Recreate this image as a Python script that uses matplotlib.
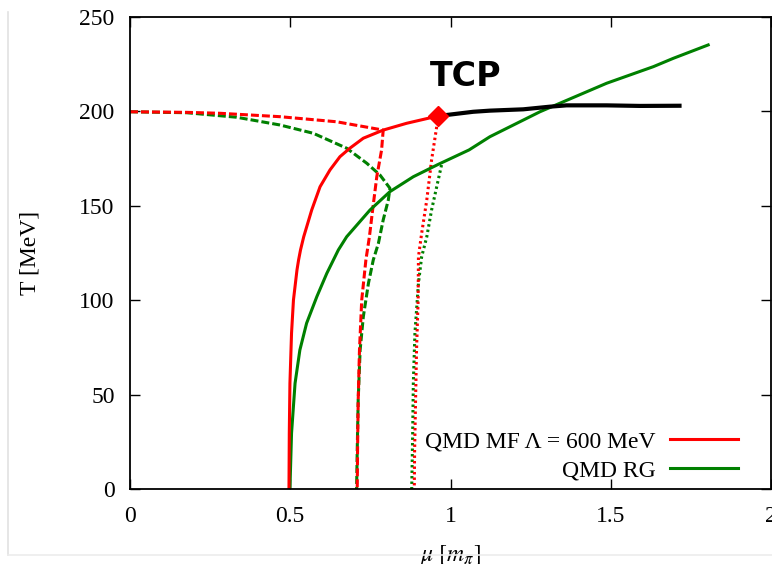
import matplotlib
matplotlib.use('Agg')
import matplotlib.pyplot as plt
from matplotlib.lines import Line2D

plt.rcParams['font.family'] = ['Liberation Serif', 'DejaVu Serif']
plt.rcParams['mathtext.fontset'] = 'stix'

# ── Data ──────────────────────────────────────────────────────────────
# mean-field crossover (red solid)
mf_cross_mu = [0.496, 0.497, 0.499, 0.504, 0.510, 0.521, 0.526, 0.532,
               0.542, 0.567, 0.593, 0.624, 0.655, 0.686, 0.728, 0.790,
               0.863, 0.962]
mf_cross_T = [0, 29.5, 56, 82.5, 100.1, 116, 121.3, 126.6, 133.6, 147.8,
              160.1, 169, 176, 180.5, 185.8, 190.1, 193.7, 197.6]

# RG crossover (green solid)
rg_cross_mu = [0.499, 0.504, 0.515, 0.530, 0.551, 0.583, 0.614, 0.650,
               0.676, 0.749, 0.811, 0.884, 0.960, 1.058, 1.123, 1.279,
               1.352, 1.487, 1.633, 1.695, 1.804]
rg_cross_T = [0, 29.5, 56, 73.6, 87.8, 101.9, 114.2, 126.6, 133.6, 147.8,
              157.5, 165.4, 171.8, 179.6, 186.6, 199.8, 205.1, 214.9,
              223.7, 228.1, 235.2]

# line beyond the TCP (black)
fo_mu = [0.962, 0.988, 1.071, 1.123, 1.227, 1.310, 1.362, 1.487, 1.591,
         1.721]
fo_T = [197.6, 198.1, 199.8, 200.4, 201.1, 202.5, 203.2, 203.2, 202.9,
        203.0]

# spinodals, dashed
mf_spin_mu = [0.0, 0.177, 0.281, 0.468, 0.645, 0.790, 0.785, 0.770,
              0.757, 0.747, 0.736, 0.723, 0.716, 0.712, 0.710, 0.709]
mf_spin_T = [199.8, 199.5, 199.0, 197.2, 194.5, 190.1, 179.6, 165.4,
             147.8, 133.6, 121.3, 100.1, 73.6, 47, 20.7, 0]

rg_spin_mu = [0.0, 0.177, 0.333, 0.468, 0.572, 0.676, 0.739, 0.780, 0.811,
              0.806, 0.790, 0.775, 0.759, 0.744, 0.728, 0.718, 0.712, 0.709,
              0.707]
rg_spin_T = [199.8, 199.3, 196.9, 192.8, 188.4, 180.5, 172.5, 166.3, 159.3,
             153.1, 142.5, 130.1, 121.3, 109, 91.3, 73.6, 47, 20.7, 0]

# dotted lines
mf_dot_mu = [0.962, 0.957, 0.941, 0.926, 0.910, 0.900, 0.899, 0.894, 0.891,
             0.888, 0.887]
mf_dot_T = [197.6, 191.9, 174.3, 153.1, 135.4, 123, 100.1, 73.6, 47, 20,
            0]

rg_dot_mu = [0.972, 0.957, 0.941, 0.926, 0.910, 0.900, 0.889, 0.884, 0.882,
             0.879]
rg_dot_T = [171.6, 160.1, 147.8, 133.6, 123, 109, 82.5, 56, 29.5, 0]

tcp_mu, tcp_T = 0.962, 197.6

RED = '#ff0000'
GREEN = '#008000'
LW = 2.2
FS = 17

# ── Figure ────────────────────────────────────────────────────────────
fig = plt.figure(figsize=(7.72, 5.64), dpi=100)
ax = fig.add_axes([130 / 772, 1 - 489 / 564, 641 / 772, 472 / 564])

dash = dict(lw=LW, dashes=(2.6, 1.0), dash_capstyle='butt')
dot = dict(lw=LW, dashes=(0.8, 1.0), dash_capstyle='butt')

ax.plot(rg_spin_mu, rg_spin_T, color=GREEN, **dash)
ax.plot(mf_spin_mu, mf_spin_T, color=RED, **dash)
ax.plot(rg_dot_mu, rg_dot_T, color=GREEN, **dot)
ax.plot(mf_dot_mu, mf_dot_T, color=RED, **dot)
ax.plot(rg_cross_mu, rg_cross_T, color=GREEN, lw=LW)
ax.plot(mf_cross_mu, mf_cross_T, color=RED, lw=LW)
ax.plot(fo_mu, fo_T, color='black', lw=3.0, solid_capstyle='butt')
ax.plot([tcp_mu], [tcp_T], marker='D', ms=10, color=RED, zorder=6)

ax.text(1.048, 218.5, 'TCP', family='DejaVu Sans', fontweight='bold',
        fontsize=24, ha='center', va='center')

ax.set_xlim(0, 2)
ax.set_ylim(0, 250)
ax.set_xticks([0, 0.5, 1, 1.5, 2])
ax.set_xticklabels(['0', '0.5', '1', '1.5', '2'])
ax.set_yticks(range(0, 251, 50))
ax.tick_params(direction='in', length=7, width=1, labelsize=FS,
               top=True, right=True)
ax.tick_params(axis='x', pad=12)
ax.tick_params(axis='y', pad=11)
for sp in ax.spines.values():
    sp.set_linewidth(1.3)

ax.set_ylabel('T [MeV]', fontsize=FS, labelpad=28)
ax.set_xlabel(r'$\mu\ [m_\pi]$', fontsize=FS, labelpad=12)

handles = [Line2D([0], [0], color=RED, lw=LW),
           Line2D([0], [0], color=GREEN, lw=LW)]
ax.legend(handles, ['QMD MF \u039b = 600 MeV', 'QMD RG'],
          loc='lower right', bbox_to_anchor=(0.949, 0.016),
          frameon=False, markerfirst=False, fontsize=FS,
          handlelength=2.9, handletextpad=0.6, labelspacing=0.32,
          borderpad=0, borderaxespad=0)

# faint frame edge from the source screenshot
fig.add_artist(Line2D([8 / 772, 8 / 772], [1 - 555 / 564, 1 - 12 / 564],
                      color='#e2e2e2', lw=1.2))
fig.add_artist(Line2D([8 / 772, 1], [1 - 555 / 564, 1 - 555 / 564],
                      color='#ececec', lw=1.2))

fig.savefig('out.png', dpi=100, facecolor='white')
